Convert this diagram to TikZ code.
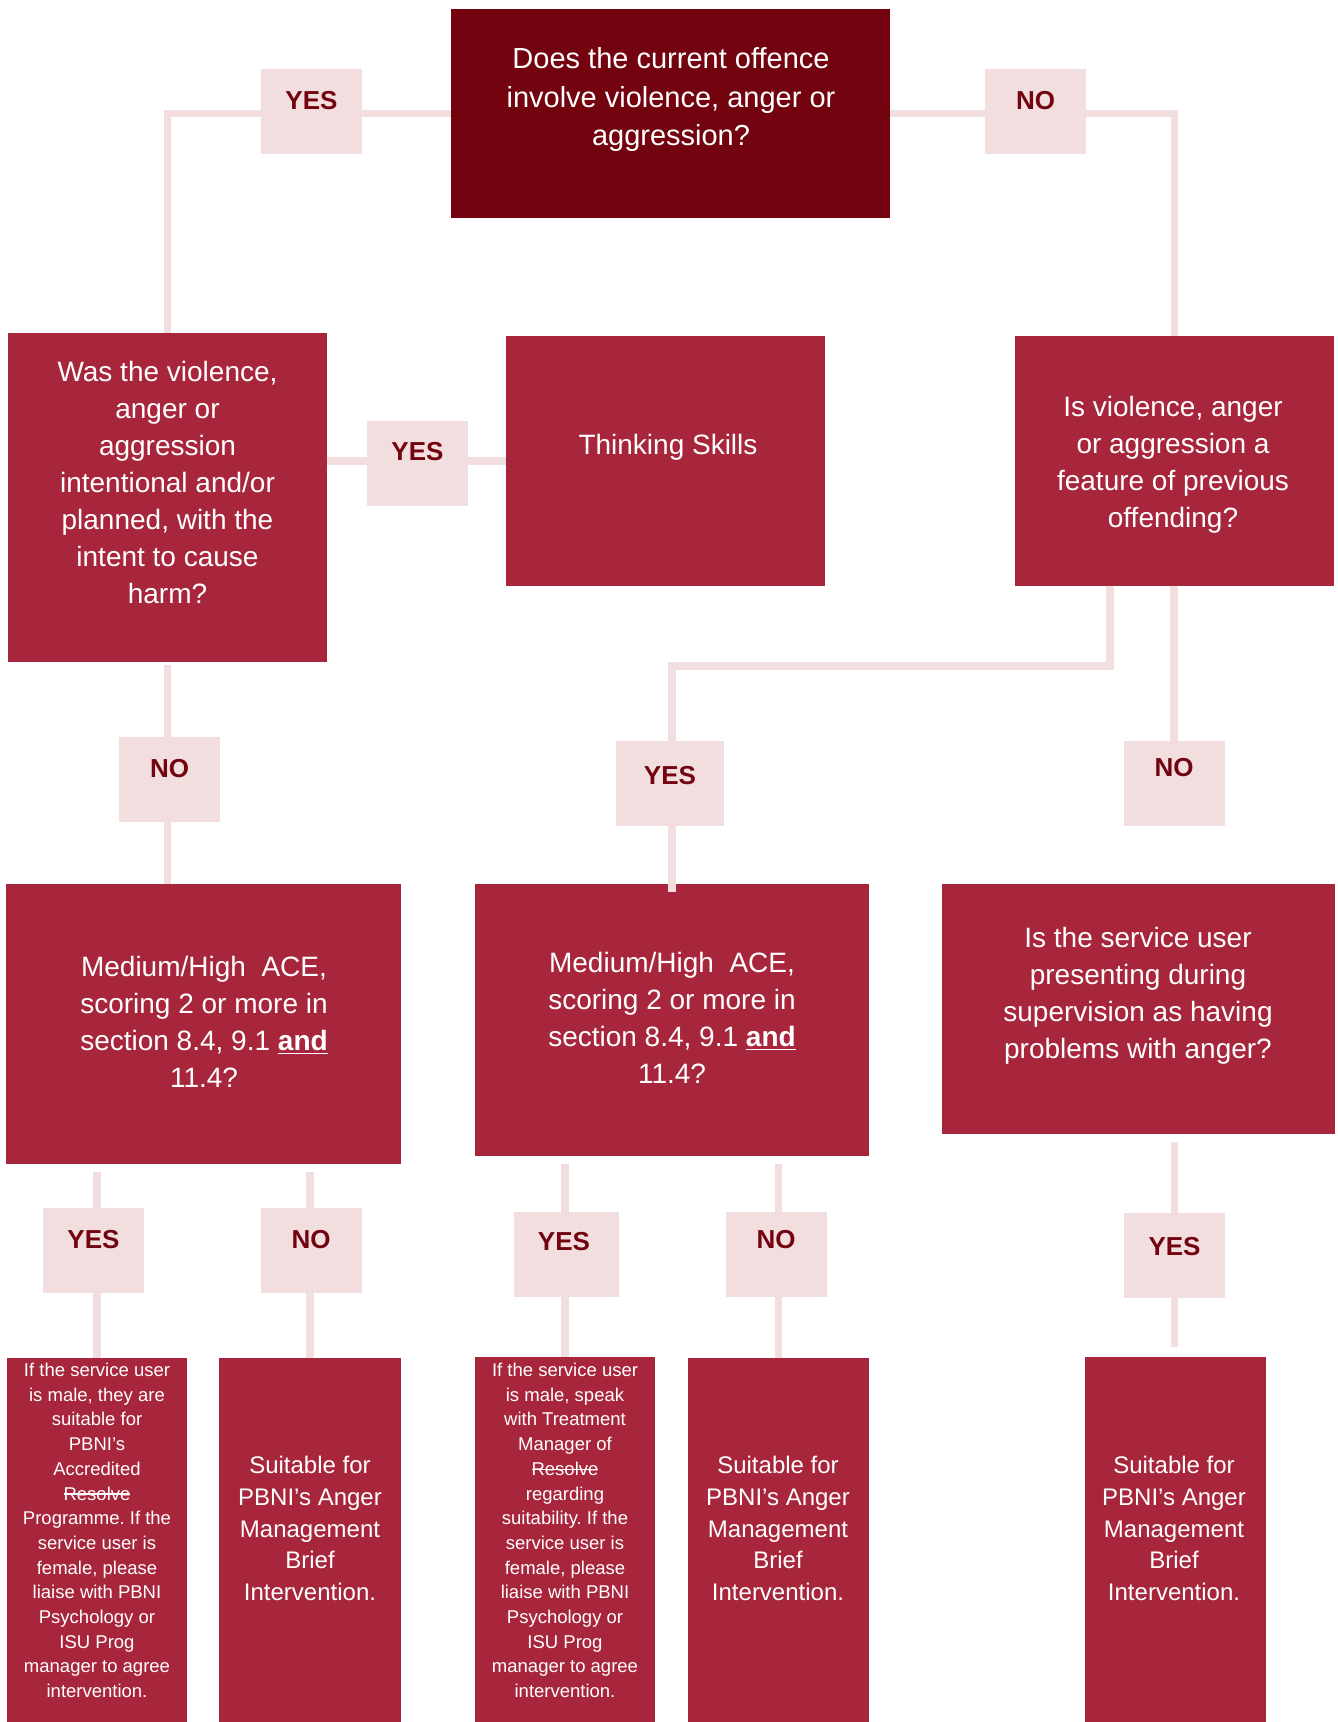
\documentclass[tikz,border=0pt]{standalone}
\usepackage{fontspec}
\setmainfont{Liberation Sans}
\usetikzlibrary{calc}
\definecolor{darkred}{RGB}{114,3,15}
\definecolor{crim}{RGB}{168,38,60}
\definecolor{lightpink}{RGB}{242,222,223}
\newcommand\mystrike[1]{\setbox0\hbox{#1}\rlap{\rule[0.3em]{\wd0}{0.07em}}\box0}
\pgfdeclarelayer{bg}
\pgfsetlayers{bg,main}
\frenchspacing
\begin{document}
\begin{tikzpicture}[x=0.5pt,y=-0.5pt,
  box/.style={rectangle, fill=crim, draw=none, inner sep=0pt, outer sep=0pt},
  topbox/.style={box, fill=darkred},
  lab/.style={rectangle, fill=lightpink, draw=none, inner sep=0pt, outer sep=0pt, minimum width=50.5pt, minimum height=42.5pt},
  labtxt/.style={text=darkred, inner sep=0pt, font=\fontsize{13pt}{15pt}\selectfont\bfseries},
  conn/.style={draw=lightpink, line width=3.8pt},
  ttop/.style={text=white, align=center, inner sep=0pt, font=\fontsize{14.5pt}{19.25pt}\selectfont\frenchspacing},
  tmain/.style={text=white, align=center, inner sep=0pt, font=\fontsize{14pt}{18.5pt}\selectfont\frenchspacing},
  tsuit/.style={text=white, align=center, inner sep=0pt, font=\fontsize{12pt}{15.85pt}\selectfont\frenchspacing},
  tsmall/.style={text=white, align=center, inner sep=0pt, font=\fontsize{9.25pt}{12.35pt}\selectfont\frenchspacing},
]
\useasboundingbox (0,0) rectangle (1337,1722);

% boxes
\node[topbox, minimum width=219.5pt, minimum height=104.5pt] (A) at (670.5,113.5) {};
\node[box, minimum width=159.5pt, minimum height=164.5pt] (B) at (167.5,497.5) {};
\node[box, minimum width=159.5pt, minimum height=125pt] (T) at (665.5,461) {};
\node[box, minimum width=159.5pt, minimum height=125pt] (C) at (1174.5,461) {};
\node[box, minimum width=197.5pt, minimum height=140pt] (D) at (203.5,1024) {};
\node[box, minimum width=197pt, minimum height=136pt] (E) at (672,1020) {};
\node[box, minimum width=196.5pt, minimum height=125pt] (F) at (1138.5,1009) {};
\node[box, minimum width=90pt, minimum height=182pt] (G) at (97,1540) {};
\node[box, minimum width=91pt, minimum height=182pt] (H) at (310,1540) {};
\node[box, minimum width=90pt, minimum height=182.5pt] (I) at (565,1539.5) {};
\node[box, minimum width=90.5pt, minimum height=182pt] (J) at (778.5,1540) {};
\node[box, minimum width=90.5pt, minimum height=182.5pt] (K) at (1175.5,1539.5) {};

% box texts
\node[ttop] (At) at (671,100) {Does the current offence\\involve violence, anger or\\aggression?};
\node[tmain] (Bt) at (167.5,482) {Was the violence,\\anger or\\aggression\\intentional and/or\\planned, with the\\intent to cause\\harm?};
\node[tmain] (Tt) at (668,447.5) {Thinking Skills};
\node[tmain] (Ct) at (1173,464.5) {Is violence, anger\\or aggression a\\feature of previous\\offending?};
\node[tmain] (Dt) at (204,1022) {Medium/High\ \ ACE,\\scoring 2 or more in\\section 8.4, 9.1 \underline{\textbf{and}}\\11.4?};
\node[tmain] (Et) at (672,1017.5) {Medium/High\ \ ACE,\\scoring 2 or more in\\section 8.4, 9.1 \underline{\textbf{and}}\\11.4?};
\node[tmain] (Ft) at (1138,996) {Is the service user\\presenting during\\supervision as having\\problems with anger?};
\node[tsmall] (Gt) at (97,1530.5) {If the service user\\is male, they are\\suitable for\\PBNI’s\\Accredited\\\mystrike{Resolve}\\Programme. If the\\service user is\\female, please\\liaise with PBNI\\Psychology or\\ISU Prog\\manager to agree\\intervention.};
\node[tsuit] (Ht) at (310,1528.5) {Suitable for\\PBNI’s Anger\\Management\\Brief\\Intervention.};
\node[tsmall] (It) at (565,1530.5) {If the service user\\is male, speak\\with Treatment\\Manager of\\\mystrike{Resolve}\\regarding\\suitability. If the\\service user is\\female, please\\liaise with PBNI\\Psychology or\\ISU Prog\\manager to agree\\intervention.};
\node[tsuit] (Jt) at (778,1528.5) {Suitable for\\PBNI’s Anger\\Management\\Brief\\Intervention.};
\node[tsuit] (Kt) at (1174,1528.5) {Suitable for\\PBNI’s Anger\\Management\\Brief\\Intervention.};

% labels
\node[lab] (L1) at (311.5,111.5) {};
\node[labtxt] (L1t) at (311.5,100.5) {YES};
\node[lab] (L2) at (1035.5,111.5) {};
\node[labtxt] (L2t) at (1035.5,100.5) {NO};
\node[lab] (L3) at (417.5,463.5) {};
\node[labtxt] (L3t) at (417.5,452) {YES};
\node[lab] (L4) at (169.5,779.5) {};
\node[labtxt] (L4t) at (169.5,769) {NO};
\node[lab, minimum width=54pt] (L5) at (670,783) {};
\node[labtxt] (L5t) at (670,776) {YES};
\node[lab] (L6) at (1174,783) {};
\node[labtxt] (L6t) at (1174,767.5) {NO};
\node[lab] (L7) at (93.5,1250) {};
\node[labtxt] (L7t) at (93.5,1239.5) {YES};
\node[lab] (L8) at (311,1250) {};
\node[labtxt] (L8t) at (311,1239.5) {NO};
\node[lab, minimum width=52.5pt] (L9) at (566.5,1254.5) {};
\node[labtxt] (L9t) at (564,1241.5) {YES};
\node[lab] (L10) at (776,1254.5) {};
\node[labtxt] (L10t) at (776,1239.5) {NO};
\node[lab] (L11) at (1174.5,1255) {};
\node[labtxt] (L11t) at (1174.5,1247) {YES};

\coordinate (Cb) at (1110,666);

% connectors behind
\begin{pgfonlayer}{bg}
\fill[white] (0,0) rectangle (1337,1722);
\draw[conn] (A.west) -| (B.north);
\draw[conn] (A.east) -| (C.north);
\draw[conn] (B.east |- T.west) -- (T.west);
\draw[conn] ($(B.south)+(0,3)$) -- (D.north -| B.south);
\draw[conn] (C.south -| Cb) -- (Cb) -| (E.north);
\draw[conn] (C.south -| L6) -- (L6.north);
\draw[conn] ($(D.south -| G.north)+(0,8)$) -- (G.north);
\draw[conn] ($(D.south -| H.north)+(0,8)$) -- (H.north);
\draw[conn] ($(E.south -| I.north)+(0,8)$) -- (I.north);
\draw[conn] ($(E.south -| J.north)+(0,8)$) -- (J.north);
\draw[conn] ($(F.south -| L11)+(0,8)$) -- ($(K.north -| L11)+(0,-10)$);
\end{pgfonlayer}
\draw[conn] (E.north) -- ++(0,8);
\end{tikzpicture}
\end{document}
